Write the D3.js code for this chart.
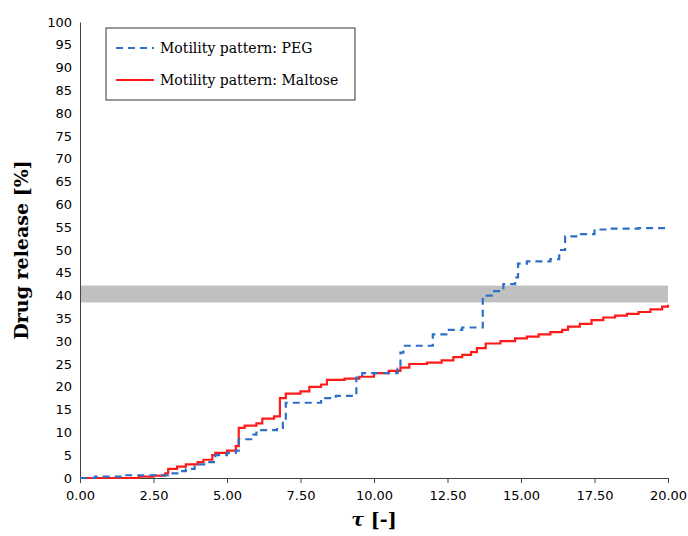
<!DOCTYPE html>
<html><head><meta charset="utf-8">
<script src="https://cdn.jsdelivr.net/npm/d3@7"></script>
<style>body{margin:0;background:#fff}</style>
</head><body><svg id="c" width="688" height="536"></svg>
<script>
const pegX = [0,0.5,1.5,2.6,3.0,3.4,3.6,3.9,4.0,4.4,4.6,5.0,5.3,5.4,5.9,6.0,6.7,6.9,7.0,8.2,8.7,9.4,9.6,10.8,10.9,11.0,12.0,12.5,13.0,13.7,14.0,14.4,14.8,14.9,15.2,16.0,16.3,16.5,17.0,17.5,18.0,19.0,20]
const pegY = [0,0.3,0.6,0.6,1,1.5,2,2.5,3,3.5,5,5.5,6,8.5,9.5,10.5,11,13,16.5,17.5,18,22,23,24,27.5,29,31.5,32.5,33,40,41,42.5,44,47,47.5,48,50,53,53.5,54.5,54.7,54.8,55]
const malX = [0,2.0,2.5,2.9,3.0,3.3,3.6,4.0,4.2,4.5,4.6,5.0,5.3,5.4,5.6,6.0,6.2,6.6,6.8,7.0,7.5,7.8,8.2,8.4,9.0,9.5,10,10.5,10.9,11.2,11.8,12.3,12.7,13.0,13.3,13.5,13.8,14.3,14.8,15.2,15.6,16.0,16.4,16.6,17.0,17.4,17.8,18.2,18.6,19.0,19.4,19.8,20]
const malY = [0,0.3,0.5,1,2,2.5,3,3.5,4,5,5.5,6,7,11,11.5,12,13,13.5,17.5,18.5,19,20,20.5,21.5,21.8,22.2,23,23.5,24.2,25,25.3,25.8,26.5,27,27.6,28.5,29.5,30,30.6,31,31.5,32,32.5,33.2,33.8,34.6,35.2,35.6,36,36.4,37,37.6,38]
const bandLo = 38.5, bandHi = 42.2
const xTicks = [0,2.5,5,7.5,10,12.5,15,17.5,20]
const yTicks = d3.range(0,101,5)

const svg = d3.select('#c')
const x = d3.scaleLinear().domain([0,20]).range([80,668])
const y = d3.scaleLinear().domain([0,100]).range([478,22])

svg.append('rect').attr('x',x(0)).attr('width',x(20)-x(0))
	.attr('y',y(bandHi)).attr('height',y(bandLo)-y(bandHi)).attr('fill','#c0c0c0')

svg.append('g').attr('transform','translate(0,478)')
	.call(d3.axisBottom(x).tickValues(xTicks).tickFormat(d3.format('.2f')).tickSize(5))
	.call(g=>g.selectAll('text').attr('font-size',13).attr('font-family','DejaVu Sans').attr('dy','1.1em'))
	.call(g=>g.selectAll('line,path').attr('stroke','#444'))
svg.append('g').attr('transform','translate(80,0)')
	.call(d3.axisLeft(y).tickValues(yTicks).tickSize(0).tickPadding(8))
	.call(g=>g.selectAll('text').attr('font-size',13).attr('font-family','DejaVu Sans'))
	.call(g=>g.selectAll('path').attr('stroke','#444'))

const line = d3.line().x(d=>x(d[0])).y(d=>y(d[1])).curve(d3.curveStepAfter)
svg.append('path').datum(malX.map((v,i)=>[v,malY[i]])).attr('d',line)
	.attr('fill','none').attr('stroke','#ff1a1a').attr('stroke-width',2.2)
svg.append('path').datum(pegX.map((v,i)=>[v,pegY[i]])).attr('d',line)
	.attr('fill','none').attr('stroke','#2e6fc7').attr('stroke-width',2.2).attr('stroke-dasharray','7,5')

// legend
const lg = svg.append('g')
lg.append('rect').attr('x',106).attr('y',28).attr('width',249).attr('height',72)
	.attr('fill','#fff').attr('stroke','#333').attr('stroke-width',1)
lg.append('line').attr('x1',116).attr('x2',154).attr('y1',48).attr('y2',48)
	.attr('stroke','#2e6fc7').attr('stroke-width',2.2).attr('stroke-dasharray','7,5')
lg.append('line').attr('x1',116).attr('x2',154).attr('y1',80).attr('y2',80)
	.attr('stroke','#ff1a1a').attr('stroke-width',2.2)
lg.append('text').attr('x',160).attr('y',53).text('Motility pattern: PEG')
	.attr('font-family','DejaVu Serif').attr('font-size',14)
lg.append('text').attr('x',160).attr('y',85).text('Motility pattern: Maltose')
	.attr('font-family','DejaVu Serif').attr('font-size',14)

svg.append('text').attr('transform','translate(28,250) rotate(-90)').attr('text-anchor','middle')
	.attr('font-family','DejaVu Serif').attr('font-weight','bold').attr('font-size',19).text('Drug release [%]')
const xl = svg.append('text').attr('x',374).attr('y',526).attr('text-anchor','middle')
	.attr('font-family','DejaVu Serif').attr('font-weight','bold').attr('font-size',19)
xl.append('tspan').attr('font-style','italic').text('τ')
xl.append('tspan').text(' [-]')
</script></body></html>
